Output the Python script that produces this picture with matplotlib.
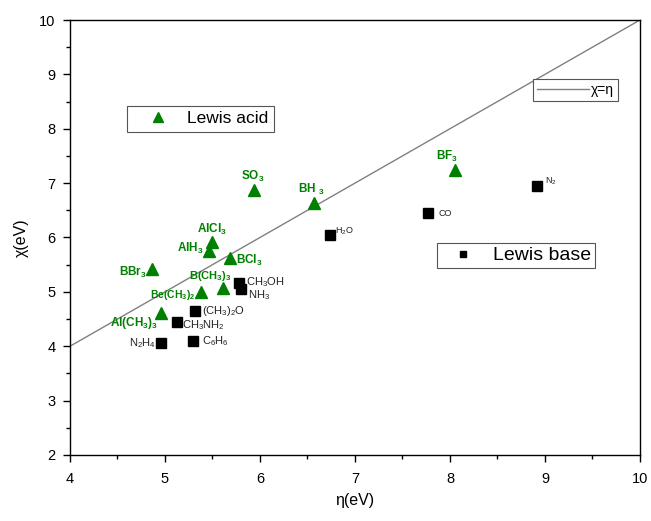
import matplotlib
matplotlib.use("Agg")
import matplotlib.pyplot as plt
from matplotlib.lines import Line2D
from matplotlib.ticker import MultipleLocator

plt.rcParams['font.family'] = ['Liberation Sans', 'DejaVu Sans']
plt.rcParams['mathtext.fontset'] = 'custom'
plt.rcParams['mathtext.rm'] = 'Liberation Sans'
plt.rcParams['mathtext.bf'] = 'Liberation Sans:bold'

# Lewis acids: hardness eta and electronegativity chi (eV)
acid_names = [r'BF$_\mathbf{3}$', r'SO$_\mathbf{3}$', r'BH $_\mathbf{3}$', r'AlCl$_\mathbf{3}$',
              r'AlH$_\mathbf{3}$', r'BCl$_\mathbf{3}$', r'BBr$_\mathbf{3}$', r'B(CH$_\mathbf{3}$)$_\mathbf{3}$',
              r'Be(CH$_\mathbf{3}$)$_\mathbf{2}$', r'Al(CH$_\mathbf{3}$)$_\mathbf{3}$']
acid_eta = [8.05, 5.94, 6.57, 5.49, 5.46, 5.68, 4.86, 5.61, 5.38, 4.96]
acid_chi = [7.25, 6.87, 6.64, 5.92, 5.76, 5.63, 5.42, 5.07, 4.99, 4.61]

# Lewis bases
base_names = [r'CH$_3$OH', r'NH$_3$', r'(CH$_3$)$_2$O', r'CH$_3$NH$_2$', r'N$_2$H$_4$',
              r'C$_6$H$_6$', r'H$_2$O', 'CO', r'N$_2$']
base_eta = [5.78, 5.80, 5.32, 5.13, 4.96, 5.29, 6.74, 7.77, 8.92]
base_chi = [5.17, 5.06, 4.65, 4.45, 4.06, 4.10, 6.05, 6.45, 6.95]

green = '#008000'

# label offsets in pixels (dx, dy), alignment, font size
acid_lbl = [(-8, 13, 'center', 8.5), (-2, 14, 'center', 8.5), (-3, 13, 'center', 8.5),
            (0, 12, 'center', 8.5), (-5, 2, 'right', 8.5), (6, -3, 'left', 8.5),
            (-5, -3, 'right', 8.5), (-13, 12, 'center', 8), (-6, -3, 'right', 7.5),
            (-3, -10, 'right', 8.5)]
base_lbl = [(7, 1, 'left', 8), (7, -6, 'left', 8), (7, 0, 'left', 8), (5, -3, 'left', 8),
            (-5, 0, 'right', 8), (9, 0, 'left', 8), (5, 4, 'left', 6.5),
            (10, 0, 'left', 6.5), (8, 5, 'left', 6.5)]

fig = plt.figure(figsize=(6.51, 5.21), dpi=100)
ax = fig.add_axes([0.1075, 0.1267, 0.8755, 0.8349])

line, = ax.plot([4, 10], [4, 10], color='#808080', lw=1.0, label=r'χ=η')
ax.plot(acid_eta, acid_chi, ls='none', marker='^', ms=9, color=green, mec=green)
ax.plot(base_eta, base_chi, ls='none', marker='s', ms=6.5, color='black')

for n, x, y, (dx, dy, ha, fs) in zip(acid_names, acid_eta, acid_chi, acid_lbl):
    ax.annotate(n, (x, y), xytext=(dx, dy), textcoords='offset pixels', ha=ha,
                va='center', color=green, fontweight='bold', fontsize=fs)
for n, x, y, (dx, dy, ha, fs) in zip(base_names, base_eta, base_chi, base_lbl):
    ax.annotate(n, (x, y), xytext=(dx, dy), textcoords='offset pixels', ha=ha,
                va='center', color='#222222', fontsize=fs)

ax.set_xlim(4, 10)
ax.set_ylim(2, 10)
ax.xaxis.set_major_locator(MultipleLocator(1))
ax.xaxis.set_minor_locator(MultipleLocator(0.5))
ax.yaxis.set_major_locator(MultipleLocator(1))
ax.yaxis.set_minor_locator(MultipleLocator(0.5))
ax.tick_params(which='both', direction='out', top=False, right=False, labelsize=10.5)
ax.tick_params(which='major', length=5, width=1)
ax.tick_params(which='minor', length=3, width=1)
ax.tick_params(axis='x', which='major', pad=7)
ax.tick_params(axis='y', which='major', pad=5.5)
for s in ax.spines.values():
    s.set_linewidth(1.0)
ax.set_xlabel('η(eV)', fontsize=11.5, labelpad=5)
ax.set_ylabel('χ(eV)', fontsize=11.5, labelpad=7)

leg_kw = dict(loc='upper left', borderaxespad=0, fancybox=False, framealpha=1,
              edgecolor='#555555', borderpad=0.3)

acid_h = Line2D([], [], ls='none', marker='^', ms=7, color=green)
leg1 = ax.legend([acid_h], ['Lewis acid'], bbox_to_anchor=(0.1, 0.802), fontsize=12.5,
                 handlelength=3.0, handletextpad=0.17, **leg_kw)
leg1.get_frame().set_linewidth(0.8)
ax.add_artist(leg1)

base_h = Line2D([], [], ls='none', marker='s', ms=5, color='black')
leg2 = ax.legend([base_h], ['Lewis base'], bbox_to_anchor=(0.644, 0.4875), fontsize=14,
                 handlelength=2.27, handletextpad=0.41, borderaxespad=0, loc='upper left',
                 fancybox=False, framealpha=1, edgecolor='#555555', borderpad=0.2)
leg2.get_frame().set_linewidth(0.8)
ax.add_artist(leg2)

leg3 = ax.legend([line], ['χ=η'], bbox_to_anchor=(0.812, 0.864), fontsize=10,
                 handlelength=3.75, handletextpad=0.15, **leg_kw)
leg3.get_frame().set_linewidth(0.8)

fig.savefig('out.png', dpi=100)
